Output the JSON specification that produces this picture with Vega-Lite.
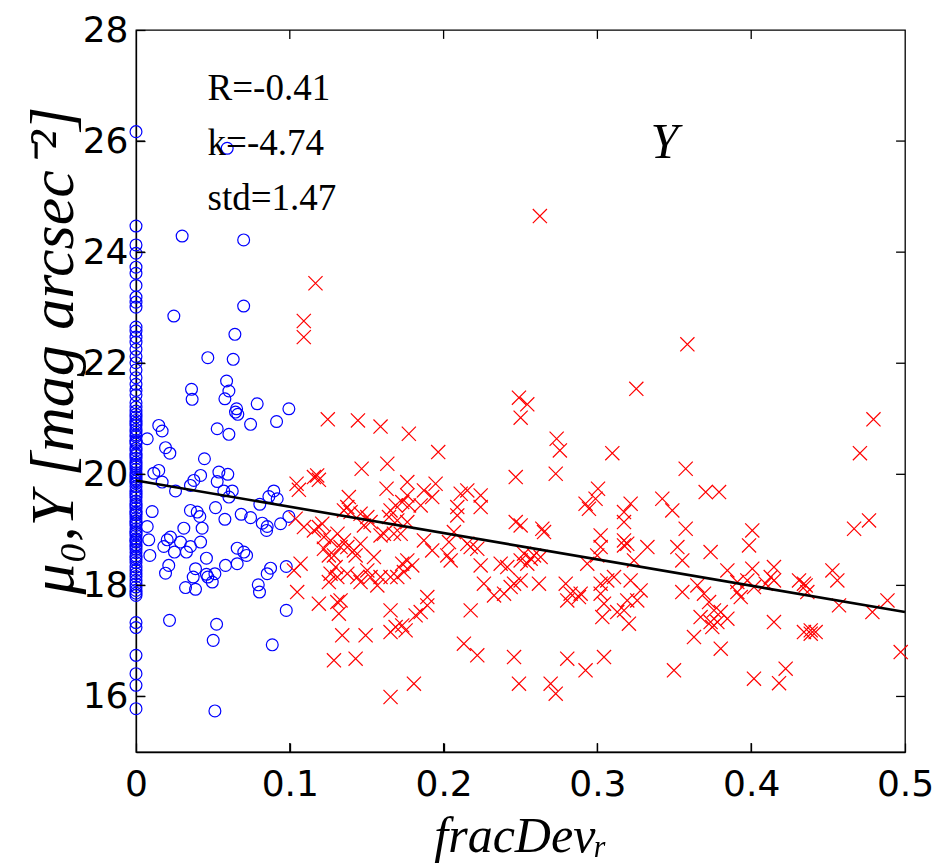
{
  "$schema": "https://vega.github.io/schema/vega-lite/v6.json",
  "width": 769,
  "height": 722,
  "autosize": {"type": "none"},
  "padding": {"left": 136, "top": 30, "right": 37, "bottom": 113},
  "background": "white",
  "config": {
    "view": {"stroke": "black", "strokeWidth": 1.3},
    "axis": {
      "grid": false,
      "domainColor": "black",
      "domainWidth": 1.3,
      "tickColor": "black",
      "tickWidth": 1.3,
      "tickSize": -9,
      "labelColor": "black",
      "labelFont": "DejaVu Sans",
      "labelFontSize": 36,
      "labelFlush": false,
      "labelOverlap": false,
      "titleColor": "black",
      "titleFont": "Liberation Serif",
      "titleFontStyle": "italic",
      "titleFontWeight": "normal"
    }
  },
  "datasets": {
    "lowDev": [
      {"fracDev": 0, "mu": 26.17}, {"fracDev": 0, "mu": 24.47}, {"fracDev": 0, "mu": 24.13}, {"fracDev": 0, "mu": 23.98},
      {"fracDev": 0, "mu": 23.73}, {"fracDev": 0, "mu": 23.62}, {"fracDev": 0, "mu": 23.4}, {"fracDev": 0, "mu": 23.19},
      {"fracDev": 0, "mu": 23.1}, {"fracDev": 0, "mu": 23.01}, {"fracDev": 0, "mu": 22.65}, {"fracDev": 0, "mu": 22.58},
      {"fracDev": 0, "mu": 22.47}, {"fracDev": 0, "mu": 22.38}, {"fracDev": 0, "mu": 22.25}, {"fracDev": 0, "mu": 22.12},
      {"fracDev": 0, "mu": 22.01}, {"fracDev": 0, "mu": 21.88}, {"fracDev": 0, "mu": 21.74}, {"fracDev": 0, "mu": 21.62},
      {"fracDev": 0, "mu": 21.51}, {"fracDev": 0, "mu": 21.43}, {"fracDev": 0, "mu": 21.29}, {"fracDev": 0, "mu": 21.21},
      {"fracDev": 0, "mu": 21.14}, {"fracDev": 0, "mu": 21.08}, {"fracDev": 0, "mu": 21.03}, {"fracDev": 0, "mu": 20.97},
      {"fracDev": 0, "mu": 20.92}, {"fracDev": 0, "mu": 20.88}, {"fracDev": 0, "mu": 20.81}, {"fracDev": 0, "mu": 20.76},
      {"fracDev": 0, "mu": 20.71}, {"fracDev": 0, "mu": 20.68}, {"fracDev": 0, "mu": 20.61}, {"fracDev": 0, "mu": 20.58},
      {"fracDev": 0, "mu": 20.55}, {"fracDev": 0, "mu": 20.47}, {"fracDev": 0, "mu": 20.43}, {"fracDev": 0, "mu": 20.37},
      {"fracDev": 0, "mu": 20.34}, {"fracDev": 0, "mu": 20.29}, {"fracDev": 0, "mu": 20.22}, {"fracDev": 0, "mu": 20.18},
      {"fracDev": 0, "mu": 20.14}, {"fracDev": 0, "mu": 20.09}, {"fracDev": 0, "mu": 20.03}, {"fracDev": 0, "mu": 19.99},
      {"fracDev": 0, "mu": 19.95}, {"fracDev": 0, "mu": 19.91}, {"fracDev": 0, "mu": 19.88}, {"fracDev": 0, "mu": 19.84},
      {"fracDev": 0, "mu": 19.78}, {"fracDev": 0, "mu": 19.71}, {"fracDev": 0, "mu": 19.66}, {"fracDev": 0, "mu": 19.62},
      {"fracDev": 0, "mu": 19.58}, {"fracDev": 0, "mu": 19.52}, {"fracDev": 0, "mu": 19.47}, {"fracDev": 0, "mu": 19.44},
      {"fracDev": 0, "mu": 19.39}, {"fracDev": 0, "mu": 19.33}, {"fracDev": 0, "mu": 19.3}, {"fracDev": 0, "mu": 19.27},
      {"fracDev": 0, "mu": 19.21}, {"fracDev": 0, "mu": 19.16}, {"fracDev": 0, "mu": 19.12}, {"fracDev": 0, "mu": 19.08},
      {"fracDev": 0, "mu": 19.02}, {"fracDev": 0, "mu": 18.97}, {"fracDev": 0, "mu": 18.94}, {"fracDev": 0, "mu": 18.9},
      {"fracDev": 0, "mu": 18.84}, {"fracDev": 0, "mu": 18.81}, {"fracDev": 0, "mu": 18.78}, {"fracDev": 0, "mu": 18.73},
      {"fracDev": 0, "mu": 18.7}, {"fracDev": 0, "mu": 18.65}, {"fracDev": 0, "mu": 18.59}, {"fracDev": 0, "mu": 18.53},
      {"fracDev": 0, "mu": 18.5}, {"fracDev": 0, "mu": 18.46}, {"fracDev": 0, "mu": 18.41}, {"fracDev": 0, "mu": 18.33},
      {"fracDev": 0, "mu": 18.27}, {"fracDev": 0, "mu": 18.21}, {"fracDev": 0, "mu": 18.16}, {"fracDev": 0, "mu": 18.09},
      {"fracDev": 0, "mu": 18.03}, {"fracDev": 0, "mu": 17.97}, {"fracDev": 0, "mu": 17.91}, {"fracDev": 0, "mu": 17.86},
      {"fracDev": 0, "mu": 17.82}, {"fracDev": 0, "mu": 17.33}, {"fracDev": 0, "mu": 17.24}, {"fracDev": 0, "mu": 16.74},
      {"fracDev": 0, "mu": 16.41}, {"fracDev": 0, "mu": 16.2}, {"fracDev": 0, "mu": 15.78},
      {"fracDev": 0.03, "mu": 24.29}, {"fracDev": 0.07, "mu": 24.22}, {"fracDev": 0.07, "mu": 23.03}, {"fracDev": 0.0246, "mu": 22.85},
      {"fracDev": 0.0643, "mu": 22.52}, {"fracDev": 0.0467, "mu": 22.1}, {"fracDev": 0.0632, "mu": 22.07}, {"fracDev": 0.0589, "mu": 21.68},
      {"fracDev": 0.0361, "mu": 21.53}, {"fracDev": 0.0604, "mu": 21.5}, {"fracDev": 0.0365, "mu": 21.35}, {"fracDev": 0.0578, "mu": 21.36},
      {"fracDev": 0.0788, "mu": 21.27}, {"fracDev": 0.0994, "mu": 21.18}, {"fracDev": 0.0654, "mu": 21.18}, {"fracDev": 0.0593, "mu": 25.87},
      {"fracDev": 0.0647, "mu": 21.12}, {"fracDev": 0.0662, "mu": 21.08}, {"fracDev": 0.0745, "mu": 20.9}, {"fracDev": 0.0914, "mu": 20.95},
      {"fracDev": 0.0148, "mu": 20.88}, {"fracDev": 0.017, "mu": 20.78}, {"fracDev": 0.0528, "mu": 20.82}, {"fracDev": 0.0604, "mu": 20.72},
      {"fracDev": 0.0073, "mu": 20.64}, {"fracDev": 0.0192, "mu": 20.48}, {"fracDev": 0.022, "mu": 20.38}, {"fracDev": 0.0445, "mu": 20.28},
      {"fracDev": 0.0148, "mu": 20.07}, {"fracDev": 0.0116, "mu": 20.02}, {"fracDev": 0.042, "mu": 19.98}, {"fracDev": 0.0539, "mu": 20.04},
      {"fracDev": 0.0597, "mu": 20.0}, {"fracDev": 0.017, "mu": 19.86}, {"fracDev": 0.0376, "mu": 19.89}, {"fracDev": 0.0354, "mu": 19.8},
      {"fracDev": 0.0528, "mu": 19.87}, {"fracDev": 0.0257, "mu": 19.7}, {"fracDev": 0.0571, "mu": 19.7}, {"fracDev": 0.0626, "mu": 19.7},
      {"fracDev": 0.0604, "mu": 19.59}, {"fracDev": 0.0896, "mu": 19.7}, {"fracDev": 0.0918, "mu": 19.56}, {"fracDev": 0.0864, "mu": 19.6},
      {"fracDev": 0.0105, "mu": 19.33}, {"fracDev": 0.0354, "mu": 19.35}, {"fracDev": 0.0398, "mu": 19.32}, {"fracDev": 0.0415, "mu": 19.24},
      {"fracDev": 0.0517, "mu": 19.4}, {"fracDev": 0.0578, "mu": 19.19}, {"fracDev": 0.0684, "mu": 19.28}, {"fracDev": 0.0745, "mu": 19.22},
      {"fracDev": 0.0805, "mu": 19.46}, {"fracDev": 0.0821, "mu": 19.12}, {"fracDev": 0.0853, "mu": 19.06}, {"fracDev": 0.0849, "mu": 18.99},
      {"fracDev": 0.094, "mu": 19.11}, {"fracDev": 0.0994, "mu": 19.24}, {"fracDev": 0.0073, "mu": 19.06}, {"fracDev": 0.0083, "mu": 18.82},
      {"fracDev": 0.009, "mu": 18.54}, {"fracDev": 0.0203, "mu": 18.82}, {"fracDev": 0.0181, "mu": 18.7}, {"fracDev": 0.025, "mu": 18.6},
      {"fracDev": 0.0289, "mu": 18.78}, {"fracDev": 0.0311, "mu": 19.03}, {"fracDev": 0.0354, "mu": 18.7}, {"fracDev": 0.0328, "mu": 18.6},
      {"fracDev": 0.043, "mu": 19.03}, {"fracDev": 0.042, "mu": 18.78}, {"fracDev": 0.0224, "mu": 18.87}, {"fracDev": 0.0458, "mu": 18.49},
      {"fracDev": 0.0658, "mu": 18.67}, {"fracDev": 0.0701, "mu": 18.6}, {"fracDev": 0.0719, "mu": 18.54}, {"fracDev": 0.0582, "mu": 18.36},
      {"fracDev": 0.0658, "mu": 18.39}, {"fracDev": 0.0213, "mu": 18.36}, {"fracDev": 0.0192, "mu": 18.22}, {"fracDev": 0.0387, "mu": 18.3},
      {"fracDev": 0.0372, "mu": 18.15}, {"fracDev": 0.0322, "mu": 17.96}, {"fracDev": 0.0387, "mu": 17.93}, {"fracDev": 0.0458, "mu": 18.2},
      {"fracDev": 0.0496, "mu": 18.06}, {"fracDev": 0.0513, "mu": 18.21}, {"fracDev": 0.0467, "mu": 18.15}, {"fracDev": 0.0795, "mu": 18.01},
      {"fracDev": 0.0803, "mu": 17.88}, {"fracDev": 0.0853, "mu": 18.21}, {"fracDev": 0.0875, "mu": 18.31}, {"fracDev": 0.0977, "mu": 18.34},
      {"fracDev": 0.0977, "mu": 17.55}, {"fracDev": 0.0218, "mu": 17.37}, {"fracDev": 0.0524, "mu": 17.3}, {"fracDev": 0.0502, "mu": 17.01},
      {"fracDev": 0.0886, "mu": 16.93}, {"fracDev": 0.0513, "mu": 15.74}
    ],
    "highDev": [
      {"fracDev": 0.2626, "mu": 24.65}, {"fracDev": 0.1167, "mu": 23.44}, {"fracDev": 0.1091, "mu": 22.76}, {"fracDev": 0.1091, "mu": 22.47},
      {"fracDev": 0.249, "mu": 21.38}, {"fracDev": 0.2544, "mu": 21.26}, {"fracDev": 0.2501, "mu": 21.02}, {"fracDev": 0.1247, "mu": 20.99},
      {"fracDev": 0.1443, "mu": 20.97}, {"fracDev": 0.159, "mu": 20.86}, {"fracDev": 0.1774, "mu": 20.73}, {"fracDev": 0.1965, "mu": 20.4},
      {"fracDev": 0.2735, "mu": 20.64}, {"fracDev": 0.2756, "mu": 20.43},
      {"fracDev": 0.3585, "mu": 22.34}, {"fracDev": 0.3253, "mu": 21.54}, {"fracDev": 0.4795, "mu": 20.99}, {"fracDev": 0.3097, "mu": 20.38},
      {"fracDev": 0.4707, "mu": 20.38},
      {"fracDev": 0.1467, "mu": 20.1}, {"fracDev": 0.1634, "mu": 20.19}, {"fracDev": 0.2469, "mu": 19.95}, {"fracDev": 0.2729, "mu": 20.01},
      {"fracDev": 0.1044, "mu": 19.83}, {"fracDev": 0.1059, "mu": 19.72}, {"fracDev": 0.1157, "mu": 19.95}, {"fracDev": 0.1178, "mu": 19.98},
      {"fracDev": 0.1189, "mu": 19.9}, {"fracDev": 0.1629, "mu": 19.74}, {"fracDev": 0.1764, "mu": 19.86}, {"fracDev": 0.1872, "mu": 19.71},
      {"fracDev": 0.1948, "mu": 19.83}, {"fracDev": 0.1926, "mu": 19.59}, {"fracDev": 0.1764, "mu": 19.62}, {"fracDev": 0.1731, "mu": 19.5},
      {"fracDev": 0.1775, "mu": 19.44}, {"fracDev": 0.1851, "mu": 19.44}, {"fracDev": 0.2111, "mu": 19.65}, {"fracDev": 0.2154, "mu": 19.71},
      {"fracDev": 0.2241, "mu": 19.62}, {"fracDev": 0.2241, "mu": 19.41}, {"fracDev": 0.2089, "mu": 19.41}, {"fracDev": 0.2089, "mu": 19.26},
      {"fracDev": 0.1384, "mu": 19.59}, {"fracDev": 0.1374, "mu": 19.41}, {"fracDev": 0.1352, "mu": 19.35}, {"fracDev": 0.1395, "mu": 19.32},
      {"fracDev": 0.146, "mu": 19.29}, {"fracDev": 0.1504, "mu": 19.23}, {"fracDev": 0.1525, "mu": 19.14}, {"fracDev": 0.1482, "mu": 19.08},
      {"fracDev": 0.1655, "mu": 19.35}, {"fracDev": 0.1688, "mu": 19.44}, {"fracDev": 0.1645, "mu": 19.23}, {"fracDev": 0.1677, "mu": 18.93},
      {"fracDev": 0.1612, "mu": 18.93}, {"fracDev": 0.1721, "mu": 18.93}, {"fracDev": 0.159, "mu": 18.9}, {"fracDev": 0.1699, "mu": 19.17},
      {"fracDev": 0.1764, "mu": 19.14}, {"fracDev": 0.1872, "mu": 18.81}, {"fracDev": 0.1926, "mu": 18.63}, {"fracDev": 0.1038, "mu": 19.2},
      {"fracDev": 0.1092, "mu": 19.05}, {"fracDev": 0.1157, "mu": 18.99}, {"fracDev": 0.1189, "mu": 19.05}, {"fracDev": 0.1211, "mu": 19.11},
      {"fracDev": 0.1222, "mu": 18.87}, {"fracDev": 0.1265, "mu": 18.81}, {"fracDev": 0.131, "mu": 18.93}, {"fracDev": 0.1352, "mu": 18.81},
      {"fracDev": 0.1374, "mu": 18.69}, {"fracDev": 0.133, "mu": 18.69}, {"fracDev": 0.1417, "mu": 18.63}, {"fracDev": 0.1428, "mu": 18.54},
      {"fracDev": 0.1222, "mu": 18.66}, {"fracDev": 0.1254, "mu": 18.54}, {"fracDev": 0.1287, "mu": 18.54}, {"fracDev": 0.146, "mu": 18.75},
      {"fracDev": 0.1547, "mu": 18.51}, {"fracDev": 0.1504, "mu": 18.27}, {"fracDev": 0.1525, "mu": 18.15}, {"fracDev": 0.159, "mu": 18.15},
      {"fracDev": 0.1569, "mu": 18.0}, {"fracDev": 0.1439, "mu": 18.15}, {"fracDev": 0.146, "mu": 18.06}, {"fracDev": 0.1298, "mu": 18.33},
      {"fracDev": 0.1265, "mu": 18.21}, {"fracDev": 0.1309, "mu": 18.15}, {"fracDev": 0.1254, "mu": 18.06}, {"fracDev": 0.1374, "mu": 18.21},
      {"fracDev": 0.1655, "mu": 18.15}, {"fracDev": 0.1699, "mu": 18.15}, {"fracDev": 0.1731, "mu": 18.39}, {"fracDev": 0.1764, "mu": 18.45},
      {"fracDev": 0.1796, "mu": 18.36}, {"fracDev": 0.1742, "mu": 18.24}, {"fracDev": 0.107, "mu": 18.39}, {"fracDev": 0.1027, "mu": 18.27},
      {"fracDev": 0.1048, "mu": 17.88}, {"fracDev": 0.1189, "mu": 17.67}, {"fracDev": 0.1309, "mu": 17.7}, {"fracDev": 0.133, "mu": 17.73},
      {"fracDev": 0.1319, "mu": 17.49}, {"fracDev": 0.1655, "mu": 17.55}, {"fracDev": 0.1688, "mu": 17.25}, {"fracDev": 0.1731, "mu": 17.28},
      {"fracDev": 0.1753, "mu": 17.19}, {"fracDev": 0.1655, "mu": 17.16}, {"fracDev": 0.1818, "mu": 17.46}, {"fracDev": 0.1851, "mu": 17.52},
      {"fracDev": 0.1894, "mu": 17.64}, {"fracDev": 0.1894, "mu": 17.79}, {"fracDev": 0.1341, "mu": 17.1}, {"fracDev": 0.1493, "mu": 17.1},
      {"fracDev": 0.1287, "mu": 16.65}, {"fracDev": 0.1428, "mu": 16.68}, {"fracDev": 0.1655, "mu": 15.99}, {"fracDev": 0.1807, "mu": 16.23},
      {"fracDev": 0.2132, "mu": 16.95}, {"fracDev": 0.2219, "mu": 16.74}, {"fracDev": 0.2176, "mu": 17.55}, {"fracDev": 0.2035, "mu": 18.78},
      {"fracDev": 0.2067, "mu": 18.96}, {"fracDev": 0.2154, "mu": 18.75}, {"fracDev": 0.2176, "mu": 18.69}, {"fracDev": 0.2219, "mu": 18.66},
      {"fracDev": 0.2024, "mu": 18.54}, {"fracDev": 0.2046, "mu": 18.45}, {"fracDev": 0.2241, "mu": 18.36}, {"fracDev": 0.2262, "mu": 18.03},
      {"fracDev": 0.2328, "mu": 17.82}, {"fracDev": 0.2371, "mu": 18.39}, {"fracDev": 0.2414, "mu": 18.33}, {"fracDev": 0.2393, "mu": 17.85},
      {"fracDev": 0.2436, "mu": 17.97}, {"fracDev": 0.2458, "mu": 18.03}, {"fracDev": 0.2501, "mu": 18.09}, {"fracDev": 0.2469, "mu": 19.14},
      {"fracDev": 0.2501, "mu": 19.08}, {"fracDev": 0.2642, "mu": 19.02}, {"fracDev": 0.2653, "mu": 18.96}, {"fracDev": 0.2523, "mu": 18.57},
      {"fracDev": 0.2566, "mu": 18.48}, {"fracDev": 0.2588, "mu": 18.54}, {"fracDev": 0.2631, "mu": 18.51}, {"fracDev": 0.2501, "mu": 18.45},
      {"fracDev": 0.2544, "mu": 18.39}, {"fracDev": 0.262, "mu": 18.03}, {"fracDev": 0.2794, "mu": 18.03}, {"fracDev": 0.2826, "mu": 17.85},
      {"fracDev": 0.288, "mu": 17.79}, {"fracDev": 0.2804, "mu": 17.73}, {"fracDev": 0.2458, "mu": 16.71}, {"fracDev": 0.2804, "mu": 16.68},
      {"fracDev": 0.249, "mu": 16.23}, {"fracDev": 0.2696, "mu": 16.23}, {"fracDev": 0.2729, "mu": 16.05},
      {"fracDev": 0.3574, "mu": 20.1}, {"fracDev": 0.3704, "mu": 19.68}, {"fracDev": 0.3791, "mu": 19.68}, {"fracDev": 0.3004, "mu": 19.74},
      {"fracDev": 0.2988, "mu": 19.56}, {"fracDev": 0.2923, "mu": 19.47}, {"fracDev": 0.2945, "mu": 19.38}, {"fracDev": 0.3216, "mu": 19.47},
      {"fracDev": 0.3173, "mu": 19.32}, {"fracDev": 0.3173, "mu": 19.14}, {"fracDev": 0.3422, "mu": 19.56}, {"fracDev": 0.3487, "mu": 19.35},
      {"fracDev": 0.3574, "mu": 19.02}, {"fracDev": 0.3021, "mu": 18.9}, {"fracDev": 0.3021, "mu": 18.69}, {"fracDev": 0.3173, "mu": 18.81},
      {"fracDev": 0.3194, "mu": 18.75}, {"fracDev": 0.3173, "mu": 18.72}, {"fracDev": 0.3325, "mu": 18.69}, {"fracDev": 0.352, "mu": 18.69},
      {"fracDev": 0.3552, "mu": 18.45}, {"fracDev": 0.3736, "mu": 18.6}, {"fracDev": 0.3845, "mu": 18.27}, {"fracDev": 0.4007, "mu": 18.99},
      {"fracDev": 0.3986, "mu": 18.72}, {"fracDev": 0.4007, "mu": 18.3}, {"fracDev": 0.4148, "mu": 18.33}, {"fracDev": 0.4127, "mu": 18.15},
      {"fracDev": 0.4148, "mu": 18.09}, {"fracDev": 0.4094, "mu": 18.03}, {"fracDev": 0.4311, "mu": 18.09}, {"fracDev": 0.4343, "mu": 18.03},
      {"fracDev": 0.4528, "mu": 18.27}, {"fracDev": 0.456, "mu": 18.09}, {"fracDev": 0.4669, "mu": 19.02}, {"fracDev": 0.4766, "mu": 19.17},
      {"fracDev": 0.4886, "mu": 17.73}, {"fracDev": 0.4788, "mu": 17.52}, {"fracDev": 0.4571, "mu": 17.64}, {"fracDev": 0.3238, "mu": 18.45},
      {"fracDev": 0.2934, "mu": 18.39}, {"fracDev": 0.2999, "mu": 18.54}, {"fracDev": 0.2891, "mu": 17.85}, {"fracDev": 0.3021, "mu": 18.03},
      {"fracDev": 0.3064, "mu": 18.09}, {"fracDev": 0.3108, "mu": 18.15}, {"fracDev": 0.3216, "mu": 18.09}, {"fracDev": 0.3281, "mu": 17.91},
      {"fracDev": 0.3259, "mu": 17.73}, {"fracDev": 0.3021, "mu": 17.85}, {"fracDev": 0.3043, "mu": 17.67}, {"fracDev": 0.3194, "mu": 17.73},
      {"fracDev": 0.3173, "mu": 17.55}, {"fracDev": 0.3129, "mu": 17.52}, {"fracDev": 0.3032, "mu": 17.43}, {"fracDev": 0.3205, "mu": 17.31},
      {"fracDev": 0.3552, "mu": 17.88}, {"fracDev": 0.365, "mu": 18.0}, {"fracDev": 0.3693, "mu": 17.85}, {"fracDev": 0.3726, "mu": 17.7},
      {"fracDev": 0.3758, "mu": 17.55}, {"fracDev": 0.3802, "mu": 17.52}, {"fracDev": 0.3845, "mu": 17.4}, {"fracDev": 0.3671, "mu": 17.43},
      {"fracDev": 0.3736, "mu": 17.34}, {"fracDev": 0.3747, "mu": 17.25}, {"fracDev": 0.378, "mu": 17.34}, {"fracDev": 0.3628, "mu": 17.07},
      {"fracDev": 0.3802, "mu": 16.86}, {"fracDev": 0.391, "mu": 17.88}, {"fracDev": 0.3932, "mu": 17.79}, {"fracDev": 0.3975, "mu": 18.09},
      {"fracDev": 0.391, "mu": 18.06}, {"fracDev": 0.4018, "mu": 17.97}, {"fracDev": 0.4148, "mu": 17.34}, {"fracDev": 0.4343, "mu": 17.16},
      {"fracDev": 0.4387, "mu": 17.19}, {"fracDev": 0.4419, "mu": 17.16}, {"fracDev": 0.4387, "mu": 17.13}, {"fracDev": 0.4365, "mu": 17.88},
      {"fracDev": 0.4354, "mu": 18.0}, {"fracDev": 0.3043, "mu": 16.71}, {"fracDev": 0.2923, "mu": 16.47}, {"fracDev": 0.3498, "mu": 16.47},
      {"fracDev": 0.4018, "mu": 16.32}, {"fracDev": 0.4181, "mu": 16.24}, {"fracDev": 0.4224, "mu": 16.5}, {"fracDev": 0.4972, "mu": 16.8}
    ],
    "fit": [
      {"fracDev": 0, "mu": 19.89},
      {"fracDev": 0.5, "mu": 17.52}
    ],
    "xTicks": [
      {"fracDev": 0.1}, {"fracDev": 0.2}, {"fracDev": 0.3}, {"fracDev": 0.4}
    ],
    "yTicks": [
      {"mu": 16}, {"mu": 18}, {"mu": 20}, {"mu": 22}, {"mu": 24}, {"mu": 26}
    ],
    "note": [{}]
  },
  "layer": [
    {
      "data": {"name": "lowDev"},
      "mark": {"type": "point", "shape": "circle", "filled": false, "color": "#0000ff", "size": 140, "strokeWidth": 1.2, "opacity": 1},
      "encoding": {
        "x": {
          "field": "fracDev", "type": "quantitative",
          "scale": {"domain": [0, 0.5], "nice": false, "zero": false},
          "axis": {
            "orient": "bottom", "values": [0, 0.1, 0.2, 0.3, 0.4, 0.5], "format": "~g",
            "labelBaseline": "alphabetic", "labelPadding": 52,
            "title": "fracDevᵣ", "titleFontSize": 50, "titleBaseline": "alphabetic", "titleY": 99
          }
        },
        "y": {
          "field": "mu", "type": "quantitative",
          "scale": {"domain": [15, 28], "nice": false, "zero": false},
          "axis": {
            "orient": "left", "values": [16, 18, 20, 22, 24, 26, 28], "format": "d",
            "labelPadding": 17,
            "title": "μ₀,Y [mag arcsec⁻²]", "titleFontSize": 62, "titleBaseline": "alphabetic",
            "titleAngle": 270, "titleX": -64, "titleY": 320
          }
        }
      }
    },
    {
      "data": {"name": "highDev"},
      "mark": {"type": "point", "shape": "M-1,-1L1,1M-1,1L1,-1", "filled": false, "color": "#ff0000", "size": 200, "strokeWidth": 1.2, "opacity": 1},
      "encoding": {
        "x": {"field": "fracDev", "type": "quantitative", "axis": null},
        "y": {"field": "mu", "type": "quantitative", "axis": null}
      }
    },
    {
      "data": {"name": "fit"},
      "mark": {"type": "line", "color": "black", "strokeWidth": 2.6},
      "encoding": {
        "x": {"field": "fracDev", "type": "quantitative", "axis": null},
        "y": {"field": "mu", "type": "quantitative", "axis": null}
      }
    },
    {
      "data": {"name": "xTicks"},
      "mark": {"type": "rule", "color": "black", "strokeWidth": 1.3},
      "encoding": {
        "x": {"field": "fracDev", "type": "quantitative", "axis": null},
        "y": {"datum": 15, "type": "quantitative", "axis": null},
        "y2": {"datum": 15.16}
      }
    },
    {
      "data": {"name": "xTicks"},
      "mark": {"type": "rule", "color": "black", "strokeWidth": 1.3},
      "encoding": {
        "x": {"field": "fracDev", "type": "quantitative", "axis": null},
        "y": {"datum": 28, "type": "quantitative", "axis": null},
        "y2": {"datum": 27.84}
      }
    },
    {
      "data": {"name": "yTicks"},
      "mark": {"type": "rule", "color": "black", "strokeWidth": 1.3},
      "encoding": {
        "y": {"field": "mu", "type": "quantitative", "axis": null},
        "x": {"datum": 0, "type": "quantitative", "axis": null},
        "x2": {"datum": 0.0058}
      }
    },
    {
      "data": {"name": "yTicks"},
      "mark": {"type": "rule", "color": "black", "strokeWidth": 1.3},
      "encoding": {
        "y": {"field": "mu", "type": "quantitative", "axis": null},
        "x": {"datum": 0.5, "type": "quantitative", "axis": null},
        "x2": {"datum": 0.4942}
      }
    },
    {
      "data": {"name": "note"},
      "mark": {"type": "text", "text": "R=-0.41", "font": "Liberation Serif", "fontSize": 37, "align": "left", "baseline": "alphabetic", "color": "black"},
      "encoding": {
        "x": {"datum": 0.0465, "type": "quantitative", "axis": null},
        "y": {"datum": 26.74, "type": "quantitative", "axis": null}
      }
    },
    {
      "data": {"name": "note"},
      "mark": {"type": "text", "text": "k=-4.74", "font": "Liberation Serif", "fontSize": 37, "align": "left", "baseline": "alphabetic", "color": "black"},
      "encoding": {
        "x": {"datum": 0.0465, "type": "quantitative", "axis": null},
        "y": {"datum": 25.75, "type": "quantitative", "axis": null}
      }
    },
    {
      "data": {"name": "note"},
      "mark": {"type": "text", "text": "std=1.47", "font": "Liberation Serif", "fontSize": 37, "align": "left", "baseline": "alphabetic", "color": "black"},
      "encoding": {
        "x": {"datum": 0.0465, "type": "quantitative", "axis": null},
        "y": {"datum": 24.76, "type": "quantitative", "axis": null}
      }
    },
    {
      "data": {"name": "note"},
      "mark": {"type": "text", "text": "Y", "font": "Liberation Serif", "fontStyle": "italic", "fontSize": 50, "align": "left", "baseline": "alphabetic", "color": "black"},
      "encoding": {
        "x": {"datum": 0.3346, "type": "quantitative", "axis": null},
        "y": {"datum": 25.69, "type": "quantitative", "axis": null}
      }
    }
  ],
  "resolve": {"axis": {"x": "independent", "y": "independent"}}
}
